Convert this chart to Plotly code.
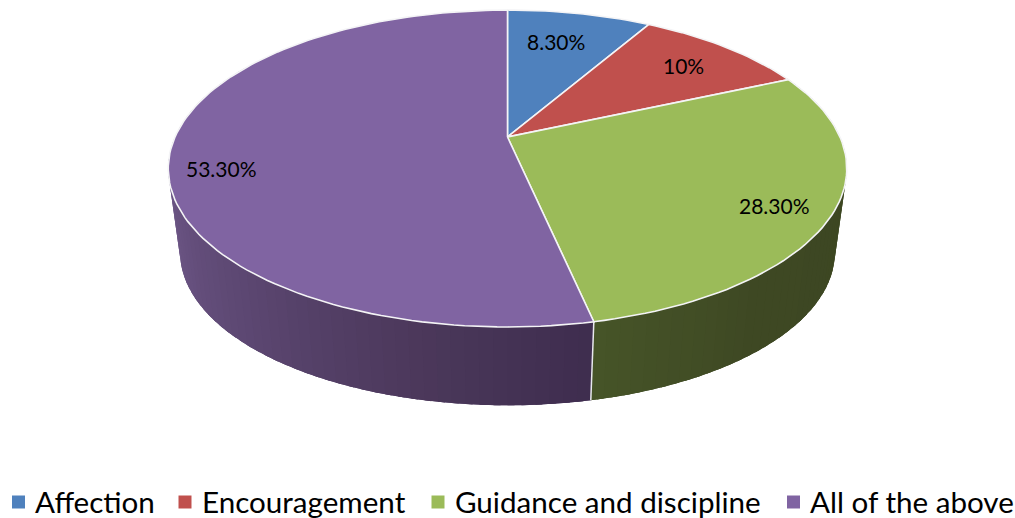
import math
import plotly.graph_objects as go

# ---- data ----
categories = ["Affection", "Encouragement", "Guidance and discipline", "All of the above"]
values = [8.3, 10, 28.3, 53.3]
data_labels = ["8.30%", "10%", "28.30%", "53.30%"]
top_colors = ["#4f81bd", "#c0504d", "#9bbb59", "#8064a2"]

# ---- style / layout ----
label_xy = [(555.5, 41), (683, 65), (774, 205), (221, 168)]
legend_marker_x = [18.5, 185, 438, 793.5]
legend_text_x = [35, 202, 454.5, 809.5]
legend_y = 501
FONT = "Lato"
LABEL_SIZE = 21
LEGEND_SIZE = 29.6

# 3-D disc projection
CX, CY = 507.5, 137
A, B, K = 332.5, 152.2, 0.1988
SHRINK, CY_BOTTOM = 0.965, 222
# (angle clockwise from 12 o'clock, colour) stops for the wall shading
wall_stops = [
    (60, "#333d1c"), (90, "#3c4622"), (140, "#3e4823"), (167.8, "#465428"),
    (167.81, "#3e2d4e"), (190, "#4a3759"), (225, "#5d4873"), (270, "#745c8e"), (300, "#745c8e"),
]


def project(theta_deg, bottom=False):
    t = math.radians(theta_deg)
    X, Y = math.sin(t), math.cos(t)
    w = 1 + K * Y
    f, cy = (SHRINK, CY_BOTTOM) if bottom else (1.0, CY)
    return CX + f * A * X / w, cy - f * B * Y / w


def hex2rgb(h):
    return tuple(int(h[i:i + 2], 16) for i in (1, 3, 5))


def wall_color(theta):
    for (a, ca), (b, cb) in zip(wall_stops, wall_stops[1:]):
        if a <= theta <= b:
            u = (theta - a) / (b - a)
            r = [round(p + (q - p) * u) for p, q in zip(hex2rgb(ca), hex2rgb(cb))]
            return f"rgb({r[0]},{r[1]},{r[2]})"
    return wall_stops[-1][1]


fig = go.Figure()

# boundaries of slices, clockwise from 12 o'clock
total = sum(values)
edges = [0.0]
for v in values:
    edges.append(edges[-1] + v / total * 360)
seam = edges[3]


def add_wall_base(a, b, col):
    n = int((b - a) / 2) + 1
    ang = [a + (b - a) * j / n for j in range(n + 1)]
    top = [project(t) for t in ang]
    bot = [project(t, True) for t in reversed(ang)]
    pts = top + bot + top[:1]
    fig.add_trace(go.Scatter(x=[p[0] for p in pts], y=[p[1] for p in pts], mode="lines", fill="toself",
                             fillcolor=col, line=dict(color=col, width=0), hoverinfo="skip", showlegend=False))


# solid underlay of each wall, so the shaded strips leave no hairlines
add_wall_base(60, seam, "#3f4923")
add_wall_base(seam, 300, "#54406a")

# shaded strips; each strip overlaps its neighbour towards the seam
step = 2.0
for side, (start, stop) in enumerate(((60.0, seam), (300.0, seam))):
    sgn = 1 if stop > start else -1
    t = start
    while sgn * (stop - t) > 1e-6:
        nxt = t + sgn * step
        if sgn * (nxt - stop) > 0:
            nxt = stop
        over = nxt + sgn * 1.0
        if sgn * (over - stop) > 0:
            over = stop
        x0, y0 = project(t)
        x1, y1 = project(over)
        x2, y2 = project(over, True)
        x3, y3 = project(t, True)
        col = wall_color((t + nxt) / 2)
        fig.add_trace(go.Scatter(
            x=[x0, x1, x2, x3, x0], y=[y0, y1, y2, y3, y0], mode="lines", fill="toself",
            fillcolor=col, line=dict(color=col, width=0), hoverinfo="skip", showlegend=False))
        t = nxt

# white seam between the two visible wall colours
sx0, sy0 = project(seam)
sx1, sy1 = project(seam, True)
fig.add_trace(go.Scatter(x=[sx0, sx1], y=[sy0, sy1], mode="lines",
                         line=dict(color="#e8e8ee", width=1.5), hoverinfo="skip", showlegend=False))

# top face
for i, name in enumerate(categories):
    a, b = edges[i], edges[i + 1]
    n = max(2, int((b - a) / 1.5))
    pts = [project(a + (b - a) * j / n) for j in range(n + 1)]
    xs = [CX] + [p[0] for p in pts] + [CX]
    ys = [CY] + [p[1] for p in pts] + [CY]
    fig.add_trace(go.Scatter(
        x=xs, y=ys, mode="lines", fill="toself", fillcolor=top_colors[i],
        line=dict(color="#f4f4f6", width=1.6), name=name,
        text=f"{name}: {data_labels[i]}", hoverinfo="text", hoveron="fills", showlegend=False))

# legend swatches
fig.add_trace(go.Scatter(
    x=legend_marker_x, y=[502] * 4, mode="markers",
    marker=dict(symbol="square", size=13, color=top_colors, line=dict(width=0)),
    hoverinfo="skip", showlegend=False))

annotations = []
for (x, y), t in zip(label_xy, data_labels):
    annotations.append(dict(x=x, y=y, text=t, showarrow=False, xanchor="center", yanchor="middle",
                            font=dict(family=FONT, size=LABEL_SIZE, color="#000000")))
for x, t in zip(legend_text_x, categories):
    annotations.append(dict(x=x, y=legend_y, text=t, showarrow=False, xanchor="left", yanchor="middle",
                            xshift=-2, font=dict(family=FONT, size=LEGEND_SIZE, color="#000000")))

fig.update_layout(
    width=1015, height=518, margin=dict(l=0, r=0, t=0, b=0),
    paper_bgcolor="white", plot_bgcolor="white", showlegend=False,
    xaxis=dict(range=[0, 1015], visible=False, fixedrange=True),
    yaxis=dict(range=[518, 0], visible=False, fixedrange=True),
    annotations=annotations,
)
fig.write_html("out.html", post_script="document.body.style.margin='0';document.body.style.overflow='hidden';",
               config={"displayModeBar": False})
